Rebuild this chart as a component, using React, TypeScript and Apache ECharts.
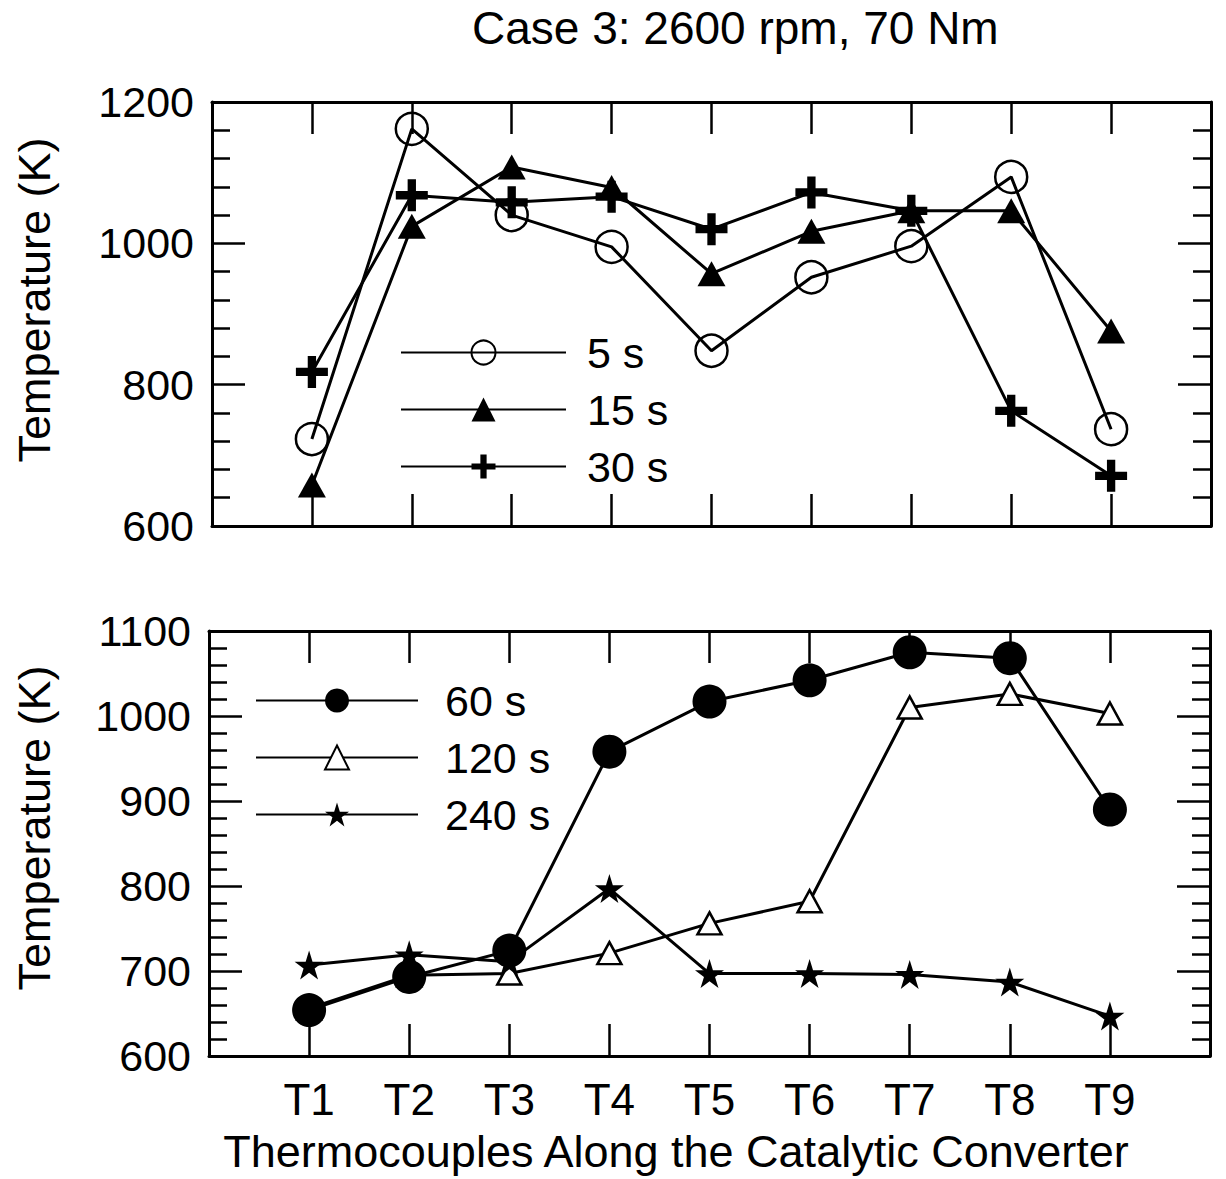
import React, { useEffect, useRef } from "react";
import * as echarts from "echarts";

const thermocouples = ["T1", "T2", "T3", "T4", "T5", "T6", "T7", "T8", "T9"];
const t5s = [723, 1162, 1040, 995, 848, 952, 996, 1094, 737];
const t15s = [658, 1024, 1108, 1079, 957, 1017, 1046, 1046, 876];
const t30s = [818, 1068, 1058, 1066, 1020, 1072, 1046, 763, 671];
const t60s = [654, 693, 724, 958, 1017, 1042, 1075, 1068, 890];
const t120s = [656, 695, 697, 721, 756, 782, 1010, 1026, 1003];
const t240s = [707, 719, 711, 797, 697, 697, 696, 687, 647];
const topTicks = [600, 800, 1000, 1200];
const bottomTicks = [600, 700, 800, 900, 1000, 1100];

const FONT = "'Liberation Sans', Arial, Helvetica, sans-serif";
const CROSS = "path://M37,0 L63,0 L63,37 L100,37 L100,63 L63,63 L63,100 L37,100 L37,63 L0,63 L0,37 L37,37 Z";
const STAR = "path://M50,0 L61.23,34.55 L97.55,34.55 L68.16,55.9 L79.39,90.45 L50,69.1 L20.61,90.45 L31.84,55.9 L2.45,34.55 L38.77,34.55 Z";

const toPts = (arr: number[]) => arr.map((v, i) => [i + 1, v]);

export default function App() {
  const ref = useRef<HTMLDivElement>(null);
  useEffect(() => {
    if (!ref.current) return;
    const chart = echarts.init(ref.current, undefined, { renderer: "svg" });
    const black = "#000";
    const axisLine = { show: true, onZero: false, lineStyle: { color: black, width: 3 } };
    const xCommon = (gridIndex: number, position: string, showLabel: boolean) => ({
      type: "value",
      gridIndex,
      position,
      min: 0,
      max: 10,
      interval: 1,
      axisLine,
      axisTick: { show: true, inside: true, length: 32, lineStyle: { color: black, width: 2.5 } },
      splitLine: { show: false },
      axisLabel: {
        show: showLabel,
        margin: 21,
        fontSize: 44,
        color: black,
        fontFamily: FONT,
        formatter: (v: number) => (v >= 1 && v <= 9 ? thermocouples[v - 1] : ""),
      },
    });
    const yCommon = (gridIndex: number, position: string, ticks: number[], showLabel: boolean) => ({
      type: "value",
      gridIndex,
      position,
      min: ticks[0],
      max: ticks[ticks.length - 1],
      interval: ticks[1] - ticks[0],
      axisLine,
      axisTick: { show: true, inside: true, length: 33, lineStyle: { color: black, width: 2.5 } },
      minorTick: { show: true, splitNumber: 5, length: 18, lineStyle: { color: black, width: 2.5 } },
      splitLine: { show: false },
      minorSplitLine: { show: false },
      axisLabel: {
        show: showLabel,
        margin: 18,
        fontSize: 43,
        color: black,
        fontFamily: FONT,
        formatter: (v: number) => String(v),
      },
    });
    const line = { color: black, width: 3 };
    const option = {
      animation: false,
      backgroundColor: "#fff",
      title: {
        text: "Case 3: 2600 rpm, 70 Nm",
        left: 472,
        top: 5,
        padding: 0,
        textStyle: { fontSize: 46, fontWeight: "normal", color: black, fontFamily: FONT },
      },
      grid: [
        { left: 212, top: 102, width: 999, height: 424 },
        { left: 209, top: 631, width: 1001, height: 425 },
      ],
      xAxis: [
        xCommon(0, "bottom", false),
        xCommon(0, "top", false),
        xCommon(1, "bottom", true),
        xCommon(1, "top", false),
      ],
      yAxis: [
        yCommon(0, "left", topTicks, true),
        yCommon(0, "right", topTicks, false),
        yCommon(1, "left", bottomTicks, true),
        yCommon(1, "right", bottomTicks, false),
      ],
      legend: [
        {
          data: ["5 s", "15 s", "30 s"],
          orient: "vertical",
          left: 400,
          top: 331,
          padding: 0,
          itemWidth: 165,
          itemHeight: 30,
          itemGap: 14,
          selectedMode: false,
          textStyle: { fontSize: 43, color: black, fontFamily: FONT, padding: [0, 0, 0, 16] },
        },
        {
          data: ["60 s", "120 s", "240 s"],
          orient: "vertical",
          left: 255,
          top: 679,
          padding: 0,
          itemWidth: 162,
          itemHeight: 30,
          itemGap: 14,
          selectedMode: false,
          textStyle: { fontSize: 43, color: black, fontFamily: FONT, padding: [0, 0, 0, 22] },
        },
      ],
      graphic: [
        {
          type: "text",
          x: 34,
          y: 300,
          rotation: Math.PI / 2,
          style: { text: "Temperature (K)", font: `45px ${FONT}`, fill: black, textAlign: "center", textVerticalAlign: "middle" },
        },
        {
          type: "text",
          x: 34,
          y: 828,
          rotation: Math.PI / 2,
          style: { text: "Temperature (K)", font: `45px ${FONT}`, fill: black, textAlign: "center", textVerticalAlign: "middle" },
        },
        {
          type: "text",
          x: 676,
          y: 1151,
          style: {
            text: "Thermocouples Along the Catalytic Converter",
            font: `45px ${FONT}`,
            fill: black,
            textAlign: "center",
            textVerticalAlign: "middle",
          },
        },
      ],
      series: [
        {
          name: "5 s",
          type: "line",
          xAxisIndex: 0,
          yAxisIndex: 0,
          data: toPts(t5s),
          symbol: "circle",
          symbolSize: 32,
          lineStyle: line,
          itemStyle: { color: "rgba(0,0,0,0)", borderColor: black, borderWidth: 2.5 },
        },
        {
          name: "15 s",
          type: "line",
          xAxisIndex: 0,
          yAxisIndex: 0,
          data: toPts(t15s),
          symbol: "triangle",
          symbolSize: [28, 25],
          lineStyle: line,
          itemStyle: { color: black },
        },
        {
          name: "30 s",
          type: "line",
          xAxisIndex: 0,
          yAxisIndex: 0,
          data: toPts(t30s),
          symbol: CROSS,
          symbolSize: 32,
          lineStyle: line,
          itemStyle: { color: black },
        },
        {
          name: "120 s",
          type: "line",
          xAxisIndex: 2,
          yAxisIndex: 2,
          data: toPts(t120s),
          symbol: "triangle",
          symbolSize: [24, 22],
          lineStyle: line,
          itemStyle: { color: "#fff", borderColor: black, borderWidth: 2.5 },
        },
        {
          name: "240 s",
          type: "line",
          xAxisIndex: 2,
          yAxisIndex: 2,
          data: toPts(t240s),
          symbol: STAR,
          symbolSize: 29,
          lineStyle: line,
          itemStyle: { color: black },
        },
        {
          name: "60 s",
          type: "line",
          xAxisIndex: 2,
          yAxisIndex: 2,
          data: toPts(t60s),
          symbol: "circle",
          symbolSize: 34,
          lineStyle: line,
          itemStyle: { color: black },
        },
      ],
    };
    chart.setOption(option as any);
    return () => chart.dispose();
  }, []);
  return <div ref={ref} style={{ position: "fixed", left: 0, top: 0, width: 1226, height: 1179 }} />;
}
